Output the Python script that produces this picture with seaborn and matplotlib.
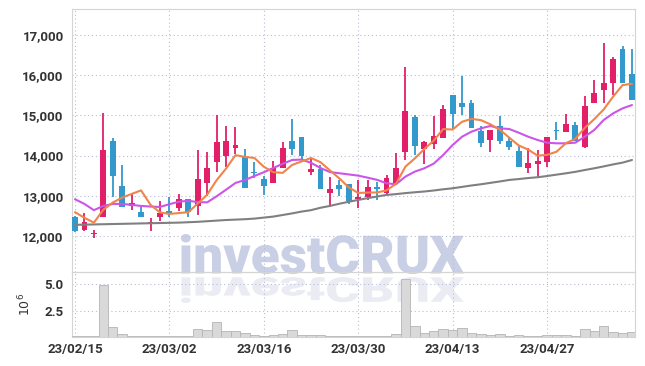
import numpy as np
import pandas as pd
import matplotlib
matplotlib.use("Agg")
import matplotlib.pyplot as plt
import seaborn as sns
from matplotlib import font_manager
from matplotlib.font_manager import FontProperties
from matplotlib.textpath import TextPath
from matplotlib.patches import PathPatch
from matplotlib.transforms import Affine2D

# trading days (KRX, holidays removed)
holidays = ["2023-03-01", "2023-05-01", "2023-05-05"]
days = pd.bdate_range("2023-02-15", "2023-05-12")
days = days[~days.isin(pd.to_datetime(holidays))]
labels = days.strftime("%y/%m/%d")

opens = [12480, 12150, 12035, 12480, 14363, 13243, 12755, 12597, 12325, 12480,
         12622, 12700, 12910, 12750, 13310, 13850, 14000, 14200, 13965, 13575,
         13409, 13310, 13700, 14363, 14462, 13600, 13666, 13061, 13268, 13293,
         12912, 12962, 13227, 13061, 13326, 14090, 14962, 14170, 14280, 14440,
         15505, 15305, 15305, 14618, 14398, 14730, 14360, 14114, 13699, 13782,
         13849, 14610, 14595, 14755, 14215, 15320, 15635, 15795, 16646, 16027]
highs = [12500, 12560, 12150, 15070, 14430, 13766, 13078, 12713, 12440, 12880,
         12978, 13050, 12910, 14130, 14080, 15010, 14745, 14720, 14155, 13850,
         13500, 13870, 14330, 14910, 14462, 13907, 13766, 13476, 13393, 13293,
         13393, 13393, 13351, 13517, 14073, 16200, 15000, 14375, 14980, 15260,
         15505, 15990, 15390, 14725, 14630, 14995, 14472, 14246, 14180, 14139,
         14470, 14840, 15045, 14840, 15495, 15885, 16792, 16459, 16717, 16643]
lows = [12100, 12130, 11940, 12460, 12980, 12730, 12647, 12481, 12130, 12380,
        12481, 12620, 12460, 12520, 12990, 13590, 13725, 14040, 13185, 13430,
        13030, 13310, 13700, 14014, 13890, 13517, 13160, 12730, 12995, 12796,
        12688, 12895, 12895, 13020, 13326, 13900, 14020, 13800, 14165, 14440,
        14670, 15005, 14690, 14215, 14090, 14300, 14132, 13708, 13558, 13476,
        13724, 14400, 14595, 14352, 14200, 15320, 15305, 15520, 15795, 15387]
closes = [12110, 12356, 12045, 14140, 13500, 12730, 12812, 12481, 12340, 12564,
          12539, 12915, 12590, 13410, 13683, 14330, 14365, 14265, 13185, 13560,
          13235, 13683, 14180, 14172, 13998, 13666, 13160, 13160, 13177, 12870,
          12978, 13210, 13169, 13434, 13700, 15105, 14240, 14330, 14480, 15150,
          15040, 15212, 14690, 14320, 14630, 14373, 14215, 13724, 13807, 13873,
          14470, 14600, 14795, 14352, 15230, 15555, 15803, 16393, 15795, 15387]

ma5 = [12590, 12450, 12330, 12650, 12830, 12954, 13045, 13133, 12773, 12585,
       12547, 12568, 12590, 12804, 13027, 13386, 13676, 14011, 13966, 13941,
       13722, 13586, 13569, 13766, 13854, 13940, 13835, 13631, 13432, 13207,
       13069, 13079, 13081, 13132, 13298, 13724, 13930, 14162, 14371, 14661,
       14648, 14842, 14914, 14882, 14778, 14645, 14446, 14252, 14150, 13998,
       14018, 14095, 14309, 14418, 14689, 14906, 15147, 15467, 15755, 15787]
ma20 = [12912, 12796, 12640, 12746, 12796, 12796, 12771, 12746, 12730, 12720,
        12790, 12850, 12875, 12840, 12835, 12985, 13150, 13318, 13392, 13490,
        13585, 13690, 13795, 13890, 13900, 13820, 13690, 13590, 13560, 13530,
        13500, 13450, 13395, 13310, 13285, 13476, 13600, 13683, 13800, 14014,
        14263, 14470, 14595, 14678, 14736, 14678, 14661, 14570, 14470, 14388,
        14321, 14305, 14305, 14321, 14470, 14636, 14885, 15051, 15175, 15258]
ma_long = [12275, 12280, 12285, 12290, 12295, 12300, 12305, 12310, 12315, 12320,
           12325, 12330, 12340, 12350, 12365, 12380, 12395, 12405, 12415, 12430,
           12455, 12480, 12520, 12560, 12605, 12640, 12700, 12746, 12800, 12850,
           12895, 12940, 12980, 13020, 13040, 13065, 13086, 13105, 13130, 13160,
           13185, 13220, 13255, 13285, 13320, 13355, 13393, 13415, 13440, 13460,
           13490, 13525, 13558, 13595, 13640, 13683, 13730, 13780, 13824, 13890]
# volume, millions of shares
volume = [0.05, 0.05, 0.05, 4.9, 0.96, 0.32, 0.12, 0.12, 0.12, 0.12,
          0.12, 0.12, 0.12, 0.8, 0.7, 1.38, 0.6, 0.6, 0.35, 0.22,
          0.1, 0.22, 0.32, 0.7, 0.22, 0.22, 0.22, 0.08, 0.08, 0.13,
          0.06, 0.08, 0.08, 0.1, 0.26, 5.5, 1.06, 0.35, 0.58, 0.74,
          0.64, 0.9, 0.38, 0.26, 0.19, 0.26, 0.1, 0.16, 0.06, 0.06,
          0.16, 0.16, 0.16, 0.06, 0.74, 0.55, 1.06, 0.48, 0.35, 0.45]

UP, DOWN = "#e2206a", "#3399cc"

sns.set_theme(style="white")
names = {f.name for f in font_manager.fontManager.ttflist}
tick_font = "Liberation Sans Narrow" if "Liberation Sans Narrow" in names else "Roboto"
plt.rcParams["font.family"] = [tick_font, "DejaVu Sans"]

fig = plt.figure(figsize=(6.45, 3.66), dpi=100)
fig.patch.set_facecolor("white")
ax = fig.add_axes([0.1116, 0.2568, 0.8729, 0.7186])
axv = fig.add_axes([0.1116, 0.0792, 0.8729, 0.1776], sharex=ax)

x = np.arange(len(closes))
o, h, l, c = map(np.array, (opens, highs, lows, closes))
col = np.where(c >= o, UP, DOWN)

# candles
ax.vlines(x, l, h, colors=col, lw=1.3, zorder=3)
body = np.maximum(np.abs(c - o), 30)
ax.bar(x, body, bottom=np.minimum(o, c), width=0.62, color=col, lw=0, zorder=4)

# moving averages
sns.lineplot(x=x, y=ma_long, color="#808080", lw=1.5, ax=ax, zorder=5)
sns.lineplot(x=x, y=ma20, color="#cc55e8", lw=1.5, ax=ax, zorder=5)
sns.lineplot(x=x, y=ma5, color="#f0844a", lw=1.5, ax=ax, zorder=6)

# volume
sns.barplot(x=x, y=volume, native_scale=True, width=1.0, color="#d9d9d9",
            edgecolor="#b5b5b5", linewidth=0.6, saturation=1, ax=axv, zorder=3)

ticks = x[::10]
for a in (ax, axv):
    a.set_facecolor("none")
    a.set_xlim(-0.32, 59.32)
    a.set_xticks(ticks)
    a.grid(True, linestyle=(0, (1, 2.5)), color="#b9bdd6", lw=0.8)
    a.set_axisbelow(True)
    a.tick_params(length=0, colors="#333333", labelsize=9.5)
    a.set_xlabel("")
    a.set_ylabel("")
    for s in a.spines.values():
        s.set_color("#d4d4d4")
        s.set_linewidth(0.8)

ax.set_ylim(11100, 17650)
ax.set_yticks(range(12000, 17001, 1000))
ax.set_yticklabels([f"{v:,}" for v in range(12000, 17001, 1000)], fontweight="bold")
ax.tick_params(axis="x", labelbottom=False)
ax.tick_params(axis="y", pad=6)

axv.set_ylim(0, 6.15)
axv.set_yticks([2.5, 5.0])
axv.set_yticklabels(["2.5", "5.0"], fontweight="bold")
axv.set_xticklabels(labels[::10], fontweight="bold")
axv.tick_params(axis="x", pad=4)
axv.tick_params(axis="y", pad=6)
axv.set_ylabel("10$^6$", fontsize=9, color="#333333", labelpad=8,
               family="DejaVu Sans")


# watermark and its reflection, drawn in pixel coordinates behind the axes
def watermark(box, color, flip=False):
    fp = FontProperties(family="Roboto", weight=900)
    path = TextPath((0, 0), "investCRUX", size=50, prop=fp)
    ext = path.get_extents()
    x0, y0, x1, y1 = box
    tr = Affine2D().translate(-ext.x0, -ext.y0).scale((x1 - x0) / ext.width,
                                                      (y1 - y0) / ext.height)
    if flip:
        tr = tr.scale(1, -1).translate(0, y1 - y0)
    tr = tr.translate(x0, y0)
    fig.add_artist(PathPatch(path, transform=tr, facecolor=color,
                             edgecolor="none", zorder=-1))


watermark((181, 92, 464, 132), "#c9cfe5")
watermark((181, 63, 464, 89), "#ebecf3", flip=True)

fig.savefig("out.png", dpi=100)
